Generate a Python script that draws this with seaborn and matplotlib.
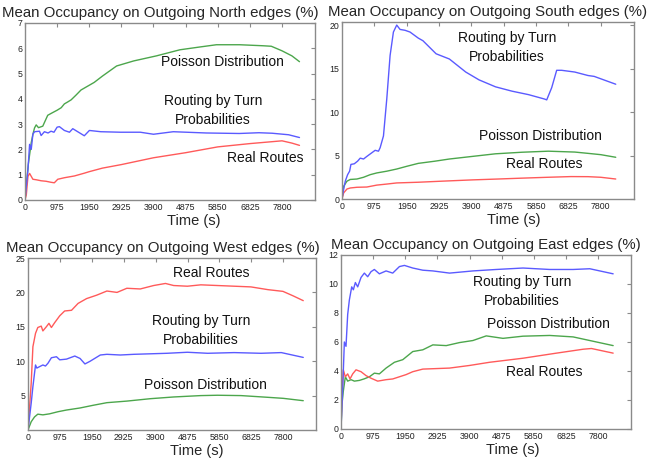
"""
Mean occupancy on outgoing edges (North / South / West / East) for the
three demand models: real routes, routing by turn probabilities, Poisson.
Renders a 2x2 grid of line charts to out.png.
"""

import matplotlib
matplotlib.use("Agg")
import matplotlib.pyplot as plt
import seaborn as sns

# -------------------------------------------------------------------------------------
# DATA (time in seconds, occupancy in %)
# -------------------------------------------------------------------------------------
# North
N_REAL_T = [0, 40, 90, 140, 240, 340, 490, 640, 790, 890, 995, 1195, 1500, 1800, 1950,
            2350, 2925, 3900, 4875, 5850, 6825, 7800, 8100, 8330]
N_REAL = [0, 0.2, 0.93, 1.05, 0.82, 0.8, 0.76, 0.74, 0.7, 0.68, 0.82, 0.88, 0.95, 1.06,
          1.12, 1.26, 1.4, 1.67, 1.87, 2.1, 2.23, 2.34, 2.25, 2.16]
N_TURN_T = [0, 90, 140, 190, 240, 290, 440, 490, 590, 700, 790, 880, 975, 1045, 1195,
            1350, 1450, 1600, 1800, 1955, 2300, 2900, 3500, 3900, 4500, 5500, 6500, 7100,
            7500, 8000, 8330]
N_TURN = [0, 1.2, 2.2, 2.0, 2.6, 2.7, 2.72, 2.55, 2.7, 2.65, 2.72, 2.68, 2.88, 2.9, 2.75,
          2.68, 2.82, 2.7, 2.54, 2.75, 2.7, 2.68, 2.68, 2.6, 2.7, 2.65, 2.63, 2.66, 2.64,
          2.58, 2.47]
N_POIS_T = [0, 100, 190, 240, 290, 340, 410, 540, 690, 830, 975, 1100, 1195, 1300, 1400,
            1550, 1700, 1900, 2100, 2350, 2780, 3300, 3990, 4700, 5300, 5810, 6515, 7220,
            7475, 7800, 8100, 8330]
N_POIS = [0, 1.4, 2.27, 2.6, 2.85, 2.97, 2.86, 2.92, 3.35, 3.45, 3.55, 3.65, 3.8, 3.88,
          3.96, 4.15, 4.35, 4.5, 4.65, 4.9, 5.3, 5.5, 5.7, 5.94, 6.05, 6.14, 6.14, 6.1,
          6.08, 5.9, 5.7, 5.47]

# South
S_REAL_T = [0, 50, 150, 250, 450, 750, 1050, 1350, 1650, 2300, 3000, 3930, 4700, 5425,
            6200, 6900, 7415, 7800, 8250]
S_REAL = [0, 0.7, 1.15, 1.27, 1.35, 1.38, 1.6, 1.72, 1.85, 1.93, 2.05, 2.2, 2.3, 2.4,
          2.5, 2.58, 2.57, 2.5, 2.3]
S_TURN_T = [0, 50, 100, 170, 230, 270, 370, 470, 550, 650, 750, 900, 1000, 1100, 1150,
            1250, 1350, 1450, 1550, 1650, 1750, 1900, 2050, 2300, 2440, 2836, 3236, 3730,
            4130, 4627, 5125, 5624, 6100, 6170, 6320, 6470, 6620, 7015, 7415, 7600, 8250]
S_TURN = [0, 1.1, 2.06, 2.8, 3.2, 3.98, 4.05, 4.35, 4.7, 4.6, 4.9, 5.32, 5.6, 5.5, 5.9,
          7.25, 11.5, 16.5, 19.2, 20.0, 19.5, 19.4, 19.2, 18.5, 18.2, 16.7, 16.1, 14.6,
          13.7, 12.9, 12.4, 12.0, 11.5, 11.4, 12.8, 14.8, 14.8, 14.6, 14.2, 14.1, 13.2]
S_POIS_T = [0, 50, 150, 250, 450, 650, 850, 1050, 1350, 1650, 1950, 2300, 2800, 3236,
            3930, 4627, 5425, 6220, 7015, 7415, 7800, 8250]
S_POIS = [0, 1.46, 2.05, 2.25, 2.3, 2.5, 2.8, 3.0, 3.2, 3.45, 3.76, 4.1, 4.35, 4.6, 4.9,
          5.2, 5.38, 5.5, 5.4, 5.25, 5.1, 4.8]

# West
W_REAL_T = [0, 98, 150, 230, 300, 405, 455, 560, 640, 715, 815, 970, 1120, 1330, 1530,
            1790, 2100, 2410, 2720, 3020, 3430, 3840, 4200, 4450, 4870, 5280, 5790, 6300,
            6810, 7330, 7790, 8100, 8410]
W_REAL = [0, 6.8, 12.1, 14.05, 14.9, 15.1, 14.4, 15.0, 15.5, 14.9, 15.6, 16.6, 17.3,
          17.4, 18.4, 19.1, 19.6, 20.2, 20.0, 20.6, 20.5, 21.0, 21.3, 21.0, 20.9, 21.1,
          21.0, 20.9, 20.8, 20.4, 20.15, 19.5, 18.8]
W_TURN_T = [0, 98, 150, 230, 270, 350, 455, 535, 610, 715, 870, 970, 1175, 1430, 1590,
            1740, 1900, 2210, 2410, 2820, 3230, 4250, 4870, 5490, 6300, 7120, 7740, 8410]
W_TURN = [0, 3.9, 6.3, 9.45, 9.0, 9.2, 9.45, 9.3, 9.7, 10.5, 10.65, 10.2, 10.3, 10.75,
          10.4, 9.6, 10.0, 10.9, 11.0, 10.9, 11.0, 11.15, 11.3, 11.15, 11.25, 11.15,
          11.25, 10.55]
W_POIS_T = [0, 98, 200, 300, 455, 660, 920, 1175, 1590, 2000, 2410, 3020, 3740, 4450,
            5280, 5790, 6510, 7330, 7800, 8410]
W_POIS = [0, 1.2, 1.9, 2.3, 2.2, 2.35, 2.66, 2.9, 3.2, 3.6, 3.97, 4.2, 4.55, 4.8, 5.0,
          5.05, 5.0, 4.75, 4.6, 4.26]

# East
E_REAL_T = [0, 30, 70, 132, 203, 274, 355, 456, 608, 760, 912, 1114, 1368, 1570, 1773,
            1976, 2178, 2483, 3295, 3900, 4510, 5523, 6537, 7348, 7600, 8259]
E_REAL = [0, 2.36, 4.08, 3.6, 3.8, 3.45, 3.8, 4.08, 3.95, 3.68, 3.5, 3.3, 3.4, 3.45, 3.6,
          3.75, 3.95, 4.13, 4.2, 4.38, 4.6, 4.88, 5.23, 5.5, 5.55, 5.23]
E_TURN_T = [0, 52, 102, 152, 203, 254, 325, 375, 436, 507, 608, 709, 810, 912, 1013, 1165,
            1368, 1570, 1773, 1925, 2178, 2483, 2787, 3295, 4003, 4712, 5523, 6334, 7043,
            7550, 8259]
E_TURN = [0, 2.8, 6.0, 5.7, 7.9, 8.9, 9.8, 9.6, 10.1, 9.8, 10.45, 10.75, 10.5, 10.85,
          11.0, 10.7, 10.9, 10.75, 11.2, 11.28, 11.1, 10.95, 10.9, 10.75, 10.9, 11.0,
          11.1, 11.0, 11.0, 11.05, 10.7]
E_POIS_T = [0, 30, 70, 132, 203, 305, 406, 558, 709, 862, 1013, 1165, 1368, 1621, 1875,
            2178, 2483, 2787, 3194, 3599, 4003, 4408, 4915, 5523, 6334, 7043, 7550, 8259]
E_POIS = [0, 1.7, 2.6, 3.6, 3.3, 3.4, 3.3, 3.35, 3.46, 3.6, 3.85, 3.8, 4.2, 4.6, 4.78,
          5.34, 5.46, 5.8, 5.75, 5.96, 6.1, 6.42, 6.25, 6.4, 6.45, 6.35, 6.1, 5.75]

X_TICKS = [0, 975, 1950, 2925, 3900, 4875, 5850, 6825, 7800]

# -------------------------------------------------------------------------------------
# STYLE
# -------------------------------------------------------------------------------------
COLOR_REAL = "#ff5a5a"
COLOR_TURN = "#5a5aff"
COLOR_POIS = "#4ca64c"
FRAME = "#8a8a8a"

sns.set_style("white", {
    "xtick.direction": "in", "ytick.direction": "in",
    "xtick.top": True, "ytick.right": True,
    "axes.edgecolor": FRAME,
})
plt.rcParams["font.family"] = ["Liberation Sans", "DejaVu Sans"]
plt.rcParams["xtick.major.size"] = 3
plt.rcParams["ytick.major.size"] = 3
plt.rcParams["xtick.color"] = FRAME
plt.rcParams["ytick.color"] = FRAME
plt.rcParams["xtick.labelcolor"] = "#222222"
plt.rcParams["ytick.labelcolor"] = "#222222"

# panel: title word, axes rect (l, b, w, h), ylim, yticks, title x, xlabel x,
# the three series, then (label text, x, y) triples in data coords
PANELS = [
    ("North", [0.0382, 0.5643, 0.4434, 0.3856], (0, 7), list(range(0, 8)), 0.467, 0.583,
     (N_REAL_T, N_REAL), (N_TURN_T, N_TURN), (N_POIS_T, N_POIS),
     [("Poisson Distribution", 6000, 5.47), ("Routing by Turn\nProbabilities", 5700, 3.55),
      ("Real Routes", 7290, 1.67)]),
    ("South", [0.5229, 0.5664, 0.4465, 0.3856], (0, 20.35), [0, 5, 10, 15, 20], 0.5, 0.587,
     (S_REAL_T, S_REAL), (S_TURN_T, S_TURN), (S_POIS_T, S_POIS),
     [("Routing by Turn\nProbabilities", 4980, 17.4), ("Poisson Distribution", 5970, 7.3),
      ("Real Routes", 6090, 4.0)]),
    ("West", [0.0428, 0.0632, 0.4404, 0.3747], (0, 25), [5, 10, 15, 20, 25], 0.469, 0.586,
     (W_REAL_T, W_REAL), (W_TURN_T, W_TURN), (W_POIS_T, W_POIS),
     [("Real Routes", 5585, 22.8), ("Routing by Turn\nProbabilities", 5280, 14.5),
      ("Poisson Distribution", 5410, 6.6)]),
    ("East", [0.5214, 0.0654, 0.4434, 0.3791], (0, 12), [0, 2, 4, 6, 8, 10, 12], 0.5, 0.593,
     (E_REAL_T, E_REAL), (E_TURN_T, E_TURN), (E_POIS_T, E_POIS),
     [("Routing by Turn\nProbabilities", 5500, 9.5), ("Poisson Distribution", 6300, 7.25),
      ("Real Routes", 6170, 3.9)]),
]


def draw_panel(fig, spec):
    name, rect, ylim, yticks, title_x, xlabel_x, real, turn, pois, labels = spec
    ax = fig.add_axes(rect)
    for (t, v), color in ((pois, COLOR_POIS), (real, COLOR_REAL), (turn, COLOR_TURN)):
        sns.lineplot(x=t, y=v, ax=ax, color=color, linewidth=1.0)
    ax.set_xlim(0, 8800)
    ax.set_ylim(*ylim)
    ax.set_xticks(X_TICKS)
    ax.set_yticks(yticks)
    ax.tick_params(labelsize=6.3, pad=2)
    for s in ax.spines.values():
        s.set_color(FRAME)
        s.set_linewidth(1.0)
    ax.set_title(f"Mean Occupancy on Outgoing {name} edges (%)", fontsize=10.8,
                 x=title_x, pad=4.5)
    ax.set_xlabel("Time (s)", fontsize=10.5, x=xlabel_x, labelpad=1.5)
    ax.set_ylabel("")
    for text, x, y in labels:
        ax.text(x, y, text, fontsize=10, ha="center", va="center",
                linespacing=1.45, color="#111111")
    return ax


def main():
    fig = plt.figure(figsize=(6.54, 4.59), dpi=100)
    for spec in PANELS:
        draw_panel(fig, spec)
    fig.savefig("out.png", dpi=100)
    plt.close(fig)


if __name__ == "__main__":
    main()
